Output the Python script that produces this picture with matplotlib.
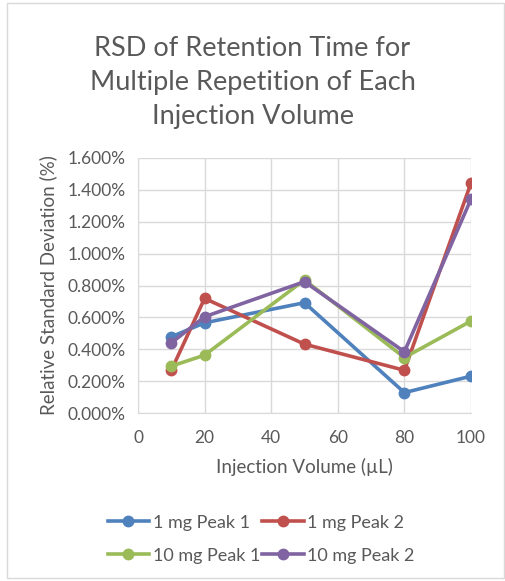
import matplotlib.pyplot as plt
from matplotlib.patches import Rectangle
from matplotlib.ticker import FuncFormatter

# Data
volumes = [10, 20, 50, 80, 100]
mg1_peak1 = [0.478, 0.566, 0.692, 0.128, 0.231]
mg1_peak2 = [0.268, 0.719, 0.432, 0.268, 1.443]
mg10_peak1 = [0.294, 0.363, 0.835, 0.348, 0.577]
mg10_peak2 = [0.440, 0.604, 0.824, 0.384, 1.342]

series_names = ['1 mg Peak 1', '1 mg Peak 2', '10 mg Peak 1', '10 mg Peak 2']
series_values = [mg1_peak1, mg1_peak2, mg10_peak1, mg10_peak2]
colors = ['#4F81BD', '#C0504D', '#9BBB59', '#8064A2']

y_ticks = [0.0, 0.2, 0.4, 0.6, 0.8, 1.0, 1.2, 1.4, 1.6]
x_ticks = [0, 20, 40, 60, 80, 100]

plt.rcParams['font.family'] = ['Lato', 'DejaVu Sans']
text_color = '#595959'
grid_color = '#D9D9D9'

fig = plt.figure(figsize=(5.05, 5.81), dpi=100)
fig.patches.append(Rectangle((7 / 505, 3 / 581), 497 / 505, 575 / 581,
                             transform=fig.transFigure, fill=False,
                             edgecolor='#D9D9D9', linewidth=1))

ax = fig.add_axes([138 / 505, (581 - 413) / 581, 333 / 505, 255 / 581])

lines = []
for name, vals, c in zip(series_names, series_values, colors):
    ln, = ax.plot(volumes, vals, color=c, linewidth=2.6, marker='o',
                  markersize=7.5, label=name, zorder=3)
    lines.append(ln)

ax.set_xlim(0, 100)
ax.set_ylim(0, 1.6)
ax.set_xticks(x_ticks)
ax.set_yticks(y_ticks)
ax.yaxis.set_major_formatter(FuncFormatter(lambda v, p: f'{v:.3f}%'))
ax.grid(True, color=grid_color, linewidth=1)
ax.set_axisbelow(True)
for side in ['top', 'right']:
    ax.spines[side].set_visible(False)
for side in ['left', 'bottom']:
    ax.spines[side].set_color(grid_color)
ax.tick_params(length=0, labelsize=12.5, colors=text_color)
ax.tick_params(axis='x', pad=12)
ax.tick_params(axis='y', pad=9)

ax.set_xlabel('Injection Volume (µL)', fontsize=13.5, color=text_color, labelpad=9)
ax.set_ylabel('Relative Standard Deviation (%)', fontsize=13.5, color=text_color, labelpad=7)

fig.text(0.5, 0.858, 'RSD of Retention Time for\nMultiple Repetition of Each\nInjection Volume',
         ha='center', va='center', fontsize=19.5, color=text_color, linespacing=1.45)

# matplotlib fills legend columns first, so reorder to read row by row
order = [0, 2, 1, 3]
fig.legend(handles=[lines[i] for i in order], labels=[series_names[i] for i in order],
           ncol=2, loc='center', bbox_to_anchor=(0.517, 0.072), frameon=False,
           fontsize=13, labelcolor=text_color, handlelength=2.3, columnspacing=0.1,
           handletextpad=0.2, labelspacing=0.95)

fig.savefig('out.png', dpi=100)
